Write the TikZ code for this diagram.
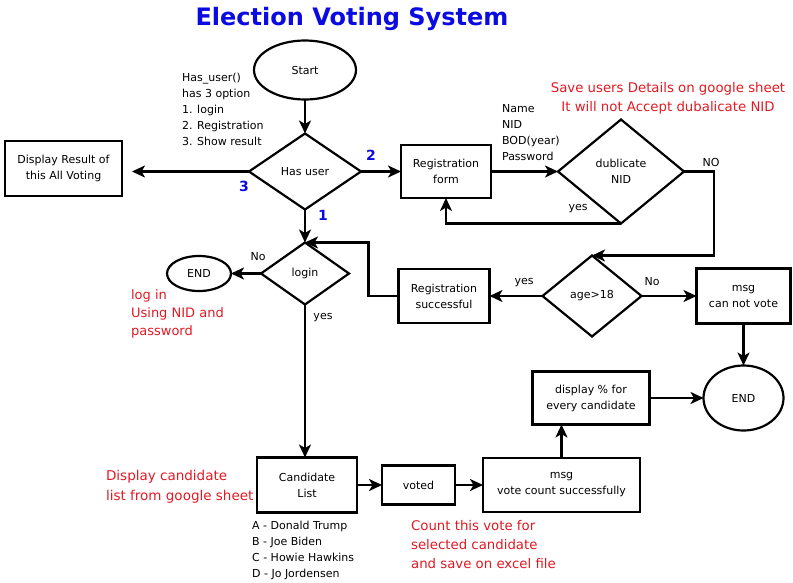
\documentclass[tikz,border=0pt]{standalone}
\usepackage{fontspec}
\setmainfont{DejaVu Sans}
\usetikzlibrary{positioning, shapes.geometric, arrows.meta}
\definecolor{titleblue}{RGB}{10,10,225}
\definecolor{notered}{RGB}{225,25,35}

\begin{document}
\begin{tikzpicture}[x=1pt, y=-1pt,
    font=\fontsize{11pt}{16pt}\selectfont,
    line width=2.2pt,
    >={Stealth[length=13pt,width=12pt,inset=3.5pt]},
    box/.style={rectangle, draw, inner sep=0pt, outer sep=0pt, align=center},
    dia/.style={diamond, draw, aspect=1.5, inner sep=0pt, outer sep=0pt, align=center},
    oval/.style={ellipse, draw, inner sep=0pt, outer sep=0pt, align=center},
    note/.style={inner sep=0pt, align=left},
    rednote/.style={inner sep=0pt, align=left, text=notered, font=\fontsize{13.3pt}{19pt}\selectfont},
    num/.style={text=titleblue, font=\fontsize{14pt}{16pt}\selectfont\bfseries}]

\useasboundingbox (0,0) rectangle (793,582);

\node[text=titleblue, font=\fontsize{24pt}{28pt}\selectfont\bfseries] (0) at (352,19) {Election Voting System};

%Has user====================================================================
\node[oval, minimum width=102pt, minimum height=59pt] (1) at (305,70) {Start};
\node[dia, minimum width=112pt, minimum height=76pt, below=34pt of 1] (2) {Has user};
\node[box, minimum width=117pt, minimum height=55pt, left=127pt of 2, yshift=3pt] (3) {Display Result of\\this All Voting};
\node[note, anchor=north west] (n1) at (181,72) {Has\_user()\\has 3 option\\1. login\\2. Registration\\3. Show result};

\node[num] (n2) at (371,155) {2};
\node[num] (n3) at (244,186) {3};
\node[num] (n4) at (323,215) {1};

\draw[->] (1)--(2);
\draw[->,shorten >=10pt] (2.west)--(2.west -| 3.east);
%=======================================================================

%Registration====================================================================
\node[box, minimum width=90pt, minimum height=53pt, right=40pt of 2] (4) {Registration\\form};
\node[dia, minimum width=126pt, minimum height=104pt, right=67pt of 4] (5) {dublicate\\NID};
\node[note, anchor=north west] (n5) at (501,103) {Name\\NID\\BOD(year)\\Password};
\node[rednote, align=center, anchor=north] (n6) at (668,81) {Save users Details on google sheet\\It will not Accept dubalicate NID};
\node (n7) at (711,162) {NO};
\node (n8) at (578,209) {yes};

\draw[->] (2)--(4);
\draw[->] (4)--(5);
\draw[->] (5.south) -| (4.south);
%=======================================================================

%Age====================================================================
\node[dia, minimum width=99pt, minimum height=81pt] (8) at (592,296) {age>18};
\node[box, minimum width=91pt, minimum height=54pt, left=53pt of 8] (9) {Registration\\successful};
\node[box, minimum width=94pt, minimum height=55pt, right=55pt of 8] (10) {msg\\can not vote};
\node[oval, minimum width=80pt, minimum height=65pt, below=42pt of 10] (11) {END};
\node (n9) at (524,283) {yes};
\node (n10) at (652,282) {No};

\draw[->] (5.east) -- ++(30,0) |- (8.north);
\draw[->] (8)--(9);
\draw[->] (8)--(10);
\draw[->] (10)--(11);
%=======================================================================

%Login====================================================================
\node[dia, minimum width=88pt, minimum height=62pt, below=33pt of 2] (6) {login};
\node[oval, minimum width=64pt, minimum height=35pt, left=30pt of 6] (7) {END};
\node (n11) at (258,257) {No};
\node (n12) at (323,318) {yes};
\node[rednote, anchor=north west, font=\fontsize{13pt}{18pt}\selectfont] (n13) at (130,289) {log in\\Using NID and\\password};

\draw[->] (2)--(6);
\draw[->] (6)--(7);
\draw[->] (9.west) -- ++(-30,0) |- (6.north);
%=======================================================================

%Vote====================================================================
\node[box, minimum width=100pt, minimum height=55pt, below=153pt of 6, xshift=2pt] (13) {Candidate\\List};
\node[box, minimum width=73pt, minimum height=39pt, right=25pt of 13] (14) {voted};
\node[box, minimum width=157pt, minimum height=54pt, right=28pt of 14] (15) {msg\\vote count successfully};
\node[box, minimum width=117pt, minimum height=53pt, left=54pt of 11] (12) {display \% for\\every candidate};
\node[rednote, anchor=north west, font=\fontsize{13.5pt}{20pt}\selectfont] (n14) at (105,469) {Display candidate\\list from google sheet};
\node[note, anchor=north west] (n15) at (251,520) {A - Donald Trump\\B - Joe Biden\\C - Howie Hawkins\\D - Jo Jordensen};
\node[rednote, anchor=north west] (n16) at (410,519) {Count this vote for\\selected candidate\\and save on excel file};

\draw[->] (6.south)--(6.south |- 13.north);
\draw[->] (13)--(14);
\draw[->] (14)--(15);
\draw[->] (15.north) -- (15.north |- 12.south);
\draw[->] (12)--(11);
%=======================================================================

\end{tikzpicture}
\end{document}
